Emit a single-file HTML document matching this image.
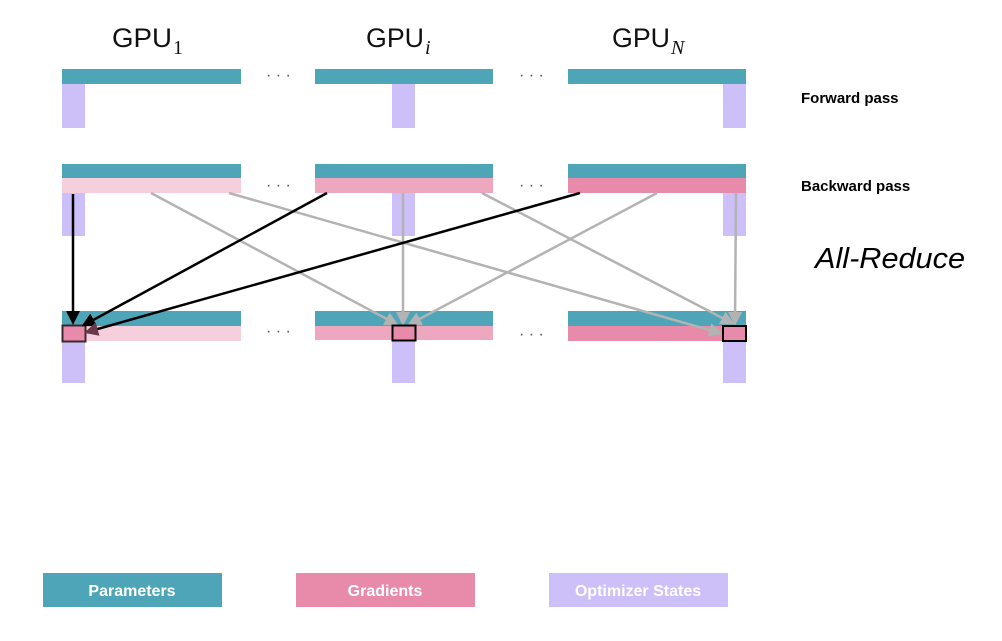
<!DOCTYPE html>
<html><head><style>body{margin:0;background:#fff}</style></head><body>
<svg width="1002" height="636" viewBox="0 0 1002 636" xmlns="http://www.w3.org/2000/svg" font-family="Liberation Sans, sans-serif">
<defs>
<marker id="ab" markerWidth="14" markerHeight="14" refX="11" refY="7" orient="auto" markerUnits="userSpaceOnUse"><path d="M0,0 L14,7 L0,14 z" fill="#000"/></marker>
<marker id="ag" markerWidth="14" markerHeight="14" refX="11" refY="7" orient="auto" markerUnits="userSpaceOnUse"><path d="M0,0 L14,7 L0,14 z" fill="#b3b3b3"/></marker>
<marker id="ad" markerWidth="14" markerHeight="14" refX="11" refY="7" orient="auto" markerUnits="userSpaceOnUse"><path d="M0,0 L14,7 L0,14 z" fill="#6a3a4c"/></marker>
</defs>
<g font-size="27" fill="#111">
<text x="112" y="47" textLength="60" lengthAdjust="spacingAndGlyphs">GPU</text><text x="173" y="54" font-family="Liberation Serif" font-size="20">1</text>
<text x="366" y="47" textLength="58" lengthAdjust="spacingAndGlyphs">GPU</text><text x="425" y="54" font-family="Liberation Serif" font-style="italic" font-size="20">i</text>
<text x="612" y="47" textLength="58" lengthAdjust="spacingAndGlyphs">GPU</text><text x="671" y="54" font-family="Liberation Serif" font-style="italic" font-size="20">N</text>
</g>
<g fill="#555" font-size="16"><text x="266" y="80">· · ·</text><text x="519" y="80">· · ·</text>
<text x="266" y="190">· · ·</text><text x="519" y="190">· · ·</text>
<text x="266" y="336">· · ·</text><text x="519" y="339">· · ·</text></g>
<rect x="62" y="69" width="179" height="15" fill="#4fa5b8"/><rect x="62" y="84" width="23" height="44" fill="#cdc0f8"/>
<rect x="315" y="69" width="178" height="15" fill="#4fa5b8"/><rect x="392" y="84" width="23" height="44" fill="#cdc0f8"/>
<rect x="568" y="69" width="178" height="15" fill="#4fa5b8"/><rect x="723" y="84" width="23" height="44" fill="#cdc0f8"/>
<rect x="62" y="164" width="179" height="14" fill="#4fa5b8"/><rect x="62" y="178" width="179" height="15" fill="#f6cfdc"/><rect x="62" y="193" width="23" height="43" fill="#cdc0f8"/>
<rect x="315" y="164" width="178" height="14" fill="#4fa5b8"/><rect x="315" y="178" width="178" height="15" fill="#eda7bf"/><rect x="392" y="193" width="23" height="43" fill="#cdc0f8"/>
<rect x="568" y="164" width="178" height="14" fill="#4fa5b8"/><rect x="568" y="178" width="178" height="15" fill="#e88aaa"/><rect x="723" y="193" width="23" height="43" fill="#cdc0f8"/>
<rect x="62" y="311" width="179" height="15" fill="#4fa5b8"/><rect x="62" y="326" width="179" height="15" fill="#f6cfdc"/><rect x="62" y="341" width="23" height="42" fill="#cdc0f8"/>
<rect x="315" y="311" width="178" height="15" fill="#4fa5b8"/><rect x="315" y="326" width="178" height="14" fill="#eda7bf"/><rect x="392" y="340" width="23" height="43" fill="#cdc0f8"/>
<rect x="568" y="311" width="178" height="15" fill="#4fa5b8"/><rect x="568" y="326" width="178" height="15" fill="#e88aaa"/><rect x="723" y="341" width="23" height="42" fill="#cdc0f8"/>
<g stroke="#b3b3b3" stroke-width="2.5" fill="none">
<line x1="151" y1="193" x2="396" y2="324" marker-end="url(#ag)"/>
<line x1="229" y1="193" x2="720" y2="333" marker-end="url(#ag)"/>
<line x1="403" y1="193" x2="403" y2="323" marker-end="url(#ag)"/>
<line x1="482" y1="193" x2="732" y2="323" marker-end="url(#ag)"/>
<line x1="657" y1="193" x2="410" y2="324" marker-end="url(#ag)"/>
<line x1="736" y1="193" x2="735" y2="323" marker-end="url(#ag)"/>
</g>
<rect x="62.5" y="325.5" width="23" height="16" fill="#e88aaa" stroke="#3a2a30" stroke-width="2"/>
<rect x="392.5" y="325.5" width="23" height="15" fill="#e88aaa" stroke="#000" stroke-width="2"/>
<rect x="723" y="326" width="23" height="15" fill="#e88aaa" stroke="#000" stroke-width="2"/>
<g stroke="#000" stroke-width="2.5" fill="none">
<line x1="73" y1="194" x2="73" y2="322" marker-end="url(#ab)"/>
<line x1="327" y1="193" x2="84" y2="325" marker-end="url(#ab)"/>
<line x1="580" y1="193" x2="87" y2="332" marker-end="url(#ad)"/>
</g>
<g font-weight="bold" font-size="15" fill="#000">
<text x="801" y="103">Forward pass</text><text x="801" y="191">Backward pass</text></g>
<text x="815" y="268" font-size="29" font-style="italic" fill="#000" textLength="150" lengthAdjust="spacingAndGlyphs">All-Reduce</text>
<rect x="43" y="573" width="179" height="34" fill="#4fa5b8"/><rect x="296" y="573" width="179" height="34" fill="#e88aaa"/><rect x="549" y="573" width="179" height="34" fill="#cdc0f8"/>
<g fill="#fff" font-weight="bold" font-size="16" text-anchor="middle">
<text x="132" y="596">Parameters</text><text x="385" y="596">Gradients</text><text x="638" y="596">Optimizer States</text></g>
</svg>
</body></html>
